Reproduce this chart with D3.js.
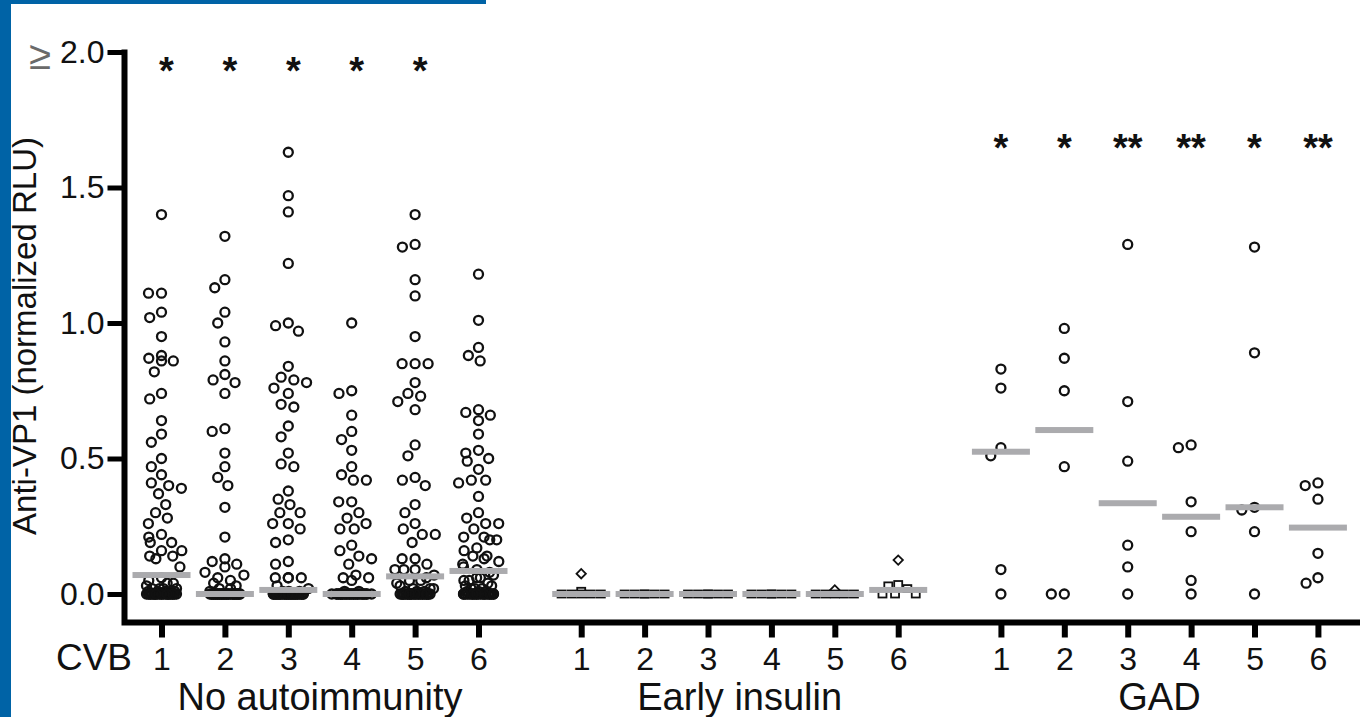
<!DOCTYPE html>
<html lang="en">
<head>
<meta charset="UTF-8">
<title>Anti-VP1 by CVB serotype</title>
<script src="https://cdn.jsdelivr.net/npm/d3@7"></script>
<style>
    body { margin: 0; background: #fff; }
    svg text { font-family: "Liberation Sans", Arial, Helvetica, sans-serif; fill: #111; }
    .pt { fill: none; stroke: #111; stroke-width: 2.3; }
    .sq { fill: none; stroke: #111; stroke-width: 1.8; }
    .med { fill: #ababae; }
    .frame { fill: none; stroke: #000; stroke-width: 6; stroke-linejoin: miter; }
</style>
</head>
<body>
<div id="chart"></div>
<script>
    const width = 1360;
    const height = 717;

    const groups = ["No autoimmunity", "Early insulin", "GAD"];
    const cvbTypes = ["1", "2", "3", "4", "5", "6"];
    const yTicks = [0, 0.5, 1.0, 1.5, 2.0];

    // No autoimmunity, CVB1..6
    const noAuto1 = [1.40, 1.11, 1.11, 1.04, 1.02, 0.95, 0.88, 0.87, 0.86, 0.86, 0.82, 0.74, 0.72, 0.64, 0.59, 0.56,
        0.50, 0.47, 0.44, 0.41, 0.40, 0.39, 0.37, 0.33, 0.30, 0.28, 0.26, 0.22, 0.21, 0.19, 0.19, 0.16, 0.16, 0.14,
        0.14, 0.13, 0.10, 0.06, 0.05, 0.04, 0.04, 0.03, 0.02, 0.02, 0.01, 0.02, 0.02, 0.01, 0.01, 0.01, 0.01,
        0, 0, 0, 0, 0, 0, 0, 0, 0, 0, 0, 0, 0, 0, 0, 0, 0, 0, 0, 0, 0, 0, 0, 0];
    const noAuto2 = [1.32, 1.16, 1.13, 1.04, 1.00, 0.93, 0.86, 0.81, 0.79, 0.78, 0.74, 0.61, 0.60, 0.52, 0.47, 0.43,
        0.40, 0.32, 0.21, 0.13, 0.12, 0.11, 0.10, 0.08, 0.07, 0.06, 0.05, 0.04, 0.03, 0.02, 0.02, 0.01,
        0, 0, 0, 0, 0, 0, 0, 0, 0, 0, 0, 0, 0, 0, 0, 0, 0, 0, 0, 0, 0, 0, 0, 0, 0, 0, 0, 0, 0, 0, 0, 0];
    const noAuto3 = [1.63, 1.47, 1.41, 1.22, 1.00, 0.99, 0.97, 0.84, 0.80, 0.79, 0.78, 0.76, 0.74, 0.70, 0.69, 0.62,
        0.58, 0.52, 0.48, 0.47, 0.38, 0.35, 0.33, 0.30, 0.30, 0.26, 0.26, 0.24, 0.20, 0.19, 0.12, 0.11, 0.06, 0.06,
        0.06, 0.06, 0.03, 0.02, 0.01, 0.01, 0.01,
        0, 0, 0, 0, 0, 0, 0, 0, 0, 0, 0, 0, 0, 0, 0, 0, 0, 0, 0, 0, 0, 0, 0, 0, 0, 0, 0, 0, 0, 0, 0, 0];
    const noAuto4 = [1.00, 0.75, 0.74, 0.66, 0.60, 0.57, 0.53, 0.47, 0.44, 0.42, 0.42, 0.34, 0.34, 0.30, 0.28, 0.26,
        0.24, 0.24, 0.18, 0.16, 0.14, 0.13, 0.11, 0.07, 0.06, 0.06, 0.05, 0.01, 0.01,
        0, 0, 0, 0, 0, 0, 0, 0, 0, 0, 0, 0, 0, 0, 0, 0, 0, 0, 0, 0, 0, 0, 0, 0, 0, 0, 0, 0];
    const noAuto5 = [1.40, 1.29, 1.28, 1.16, 1.10, 0.95, 0.85, 0.85, 0.85, 0.78, 0.74, 0.73, 0.71, 0.68, 0.55, 0.51,
        0.43, 0.42, 0.40, 0.33, 0.30, 0.26, 0.24, 0.22, 0.22, 0.19, 0.13, 0.13, 0.11, 0.09, 0.09, 0.09,
        0.07, 0.06, 0.05, 0.05, 0.04, 0.03, 0.02, 0.02, 0.02, 0.01, 0.01, 0.01,
        0, 0, 0, 0, 0, 0, 0, 0, 0, 0, 0, 0, 0, 0, 0, 0, 0, 0, 0, 0, 0, 0, 0, 0, 0, 0, 0];
    const noAuto6 = [1.18, 1.01, 0.91, 0.88, 0.86, 0.68, 0.67, 0.66, 0.64, 0.59, 0.53, 0.52, 0.50, 0.49, 0.46, 0.42,
        0.42, 0.41, 0.36, 0.30, 0.28, 0.26, 0.26, 0.24, 0.21, 0.21, 0.20, 0.20, 0.17, 0.16, 0.14, 0.14, 0.13, 0.12,
        0.11, 0.10, 0.09, 0.08, 0.07, 0.06, 0.06, 0.05, 0.05, 0.04, 0.03, 0.03, 0.02, 0.02, 0.02, 0.01, 0.01, 0.01,
        0, 0, 0, 0, 0, 0, 0, 0, 0, 0, 0, 0, 0, 0, 0, 0, 0, 0, 0, 0, 0, 0, 0];
    const noAutoMedian = [0.07, 0.0, 0.015, 0.0, 0.065, 0.085];
    const noAutoSig = ["*", "*", "*", "*", "*", ""];

    // Early insulin: squares at ~0, a few diamonds
    const earlySquares = [
        [0.01, 0, 0, 0, 0, 0],
        [0, 0, 0, 0, 0, 0],
        [0, 0, 0, 0, 0, 0],
        [0, 0, 0, 0, 0, 0],
        [0, 0, 0, 0, 0],
        [0.035, 0.03, 0.02, 0, 0, 0]
    ];
    const earlyDiamonds = [[0.075], [], [], [], [0.015], [0.125]];
    const earlyMedian = [0, 0, 0, 0, 0, 0.015];

    // GAD
    const gad1 = [0.83, 0.76, 0.54, 0.51, 0.09, 0.0];
    const gad2 = [0.98, 0.87, 0.75, 0.47, 0.0, 0.0];
    const gad3 = [1.29, 0.71, 0.49, 0.18, 0.10, 0.0];
    const gad4 = [0.55, 0.54, 0.34, 0.23, 0.05, 0.0];
    const gad5 = [1.28, 0.89, 0.32, 0.31, 0.23, 0.0];
    const gad6 = [0.41, 0.40, 0.35, 0.15, 0.06, 0.04];
    const gadMedian = [0.525, 0.605, 0.335, 0.285, 0.32, 0.245];
    const gadSig = ["*", "*", "**", "**", "*", "**"];

    const noAuto = [noAuto1, noAuto2, noAuto3, noAuto4, noAuto5, noAuto6];
    const gad = [gad1, gad2, gad3, gad4, gad5, gad6];

    // layout
    const axisX = 124.5;
    const axisY = 622.5;
    const groupGap = 6.62; // index distance between first columns of two groups
    const idx = (g, j) => g * groupGap + j;

    const x = d3.scaleLinear().domain([0, 1]).range([161.5, 224.9]);
    const y = d3.scaleLinear().domain([0, 2]).range([594, 52]);

    const svg = d3.select("#chart").append("svg")
        .attr("width", width).attr("height", height);

    // blue frame of the slide
    svg.append("rect").attr("x", 0).attr("y", 0).attr("width", 11).attr("height", height).attr("fill", "#0063a6");
    svg.append("rect").attr("x", 0).attr("y", 0).attr("width", 486).attr("height", 4).attr("fill", "#0063a6");

    const blobPattern = [0, -0.75, 0.75, -0.375, 0.375, -1, 1, -0.125, 0.125, -0.625, 0.625,
        -0.875, 0.875, -0.25, 0.25, -0.5, 0.5];

    // simple beeswarm with a width limit; overflowing points are packed into a blob
    function swarm(values, cx, D, W, Wblob) {
        const pts = values.map(v => ({v: v, y: y(v)})).sort((a, b) => a.y - b.y);
        const placed = [];
        let k = 0;
        pts.forEach(p => {
            const cands = [0];
            placed.forEach(q => {
                const dy = Math.abs(q.y - p.y);
                if (dy < D) {
                    const dx = Math.sqrt(D * D - dy * dy);
                    cands.push(q.dx - dx, q.dx + dx);
                }
            });
            cands.sort((a, b) => Math.abs(a) - Math.abs(b));
            let dx = null;
            for (const c of cands) {
                if (Math.abs(c) > W + 1e-6) break;
                if (placed.every(q => (q.dx - c) ** 2 + (q.y - p.y) ** 2 >= D * D - 0.01)) { dx = c; break; }
            }
            if (dx === null) { dx = blobPattern[k % blobPattern.length] * Wblob; k++; }
            p.dx = dx;
            placed.push(p);
        });
        return placed.map(p => ({v: p.v, x: cx + p.dx, y: p.y}));
    }

    const gPts = svg.append("g");

    function drawCircles(cols, g) {
        cols.forEach((vals, j) => {
            const pts = swarm(vals, x(idx(g, j)), 13, 21, 15);
            gPts.selectAll(null).data(pts).enter().append("circle")
                .attr("class", "pt")
                .attr("cx", d => d.x).attr("cy", d => d.y).attr("r", 4.5);
        });
    }
    drawCircles(noAuto, 0);
    drawCircles(gad, 2);

    earlySquares.forEach((vals, j) => {
        const cx = x(idx(1, j));
        const all = vals.map(v => ({v: v, shape: "sq"})).concat(earlyDiamonds[j].map(v => ({v: v, shape: "dia"})));
        const pos = swarm(all.map(d => d.v), cx, 10, 22, 20);
        // match shapes back to placed positions (same ordering as in swarm)
        const shapes = all.slice().sort((a, b) => y(a.v) - y(b.v));
        pos.forEach((p, i) => { p.shape = shapes[i].shape; });
        gPts.selectAll(null).data(pos.filter(p => p.shape === "sq")).enter().append("rect")
            .attr("class", "sq")
            .attr("x", d => d.x - 4).attr("y", d => d.y - 3.5).attr("width", 8).attr("height", 7);
        gPts.selectAll(null).data(pos.filter(p => p.shape === "dia")).enter().append("path")
            .attr("class", "sq")
            .attr("transform", d => `translate(${d.x},${d.y}) rotate(45)`)
            .attr("d", d3.symbol(d3.symbolSquare, 44));
    });

    // medians
    const medians = [
        ...noAutoMedian.map((m, j) => ({m: m, i: idx(0, j)})),
        ...earlyMedian.map((m, j) => ({m: m, i: idx(1, j)})),
        ...gadMedian.map((m, j) => ({m: m, i: idx(2, j)}))
    ];
    svg.append("g").selectAll("rect").data(medians).enter().append("rect")
        .attr("class", "med")
        .attr("x", d => x(d.i) - 29).attr("width", 58)
        .attr("y", d => y(d.m) - 3).attr("height", 6);

    // significance asterisks
    const sig = [
        ...noAutoSig.map((s, j) => ({s: s, i: idx(0, j), top: true})),
        ...gadSig.map((s, j) => ({s: s, i: idx(2, j), top: false}))
    ];
    svg.append("g").selectAll("text").data(sig).enter().append("text")
        .attr("x", d => x(d.i) + (d.top ? 5 : 0))
        .attr("y", d => d.top ? 84 : 161)
        .attr("text-anchor", "middle")
        .attr("font-size", 38)
        .attr("font-weight", "bold")
        .text(d => d.s);

    // y axis
    const yAxis = svg.append("g")
        .attr("transform", `translate(${axisX},0)`)
        .call(d3.axisLeft(y).tickValues(yTicks).tickSize(17).tickPadding(3).tickFormat(d3.format(".1f")));
    yAxis.attr("font-family", null);
    yAxis.select(".domain").remove();
    yAxis.selectAll(".tick line").attr("stroke", "#000").attr("stroke-width", 5);
    yAxis.selectAll(".tick text")
        .attr("font-size", 32)
        .each(function(d) {
            if (d === 2) {
                const t = d3.select(this);
                t.text(null);
                t.append("tspan").attr("fill", "#6a6a6a").attr("font-size", 40).attr("dy", "0.42em")
                    .text("\u2265");
                t.append("tspan").attr("dy", "-0.2em").text(" 2.0");
            }
        });

    // x axis
    const xIdx = [];
    groups.forEach((g, gi) => cvbTypes.forEach((c, j) => xIdx.push(idx(gi, j))));
    const xAxis = svg.append("g")
        .attr("transform", `translate(0,${axisY})`)
        .call(d3.axisBottom(x).tickValues(xIdx).tickSize(15).tickPadding(10)
            .tickFormat((d, i) => cvbTypes[i % cvbTypes.length]));
    xAxis.attr("font-family", null);
    xAxis.select(".domain").remove();
    xAxis.selectAll(".tick line").attr("stroke", "#000").attr("stroke-width", 6);
    xAxis.selectAll(".tick text").attr("font-size", 32);

    // axis frame
    svg.append("path")
        .attr("class", "frame")
        .attr("d", `M${axisX},${y(2) - 2.5}V${axisY}H${width}`);

    svg.append("text")
        .attr("x", 132).attr("y", 670)
        .attr("text-anchor", "end")
        .attr("font-size", 37)
        .text("CVB");

    svg.append("g").selectAll("text").data(groups).enter().append("text")
        .attr("x", (d, gi) => (x(idx(gi, 0)) + x(idx(gi, 5))) / 2)
        .attr("y", 710)
        .attr("text-anchor", "middle")
        .attr("font-size", 38)
        .text(d => d);

    svg.append("text")
        .attr("transform", "translate(36,336) rotate(-90)")
        .attr("text-anchor", "middle")
        .attr("font-size", 33)
        .text("Anti-VP1 (normalized RLU)");
</script>
</body>
</html>
